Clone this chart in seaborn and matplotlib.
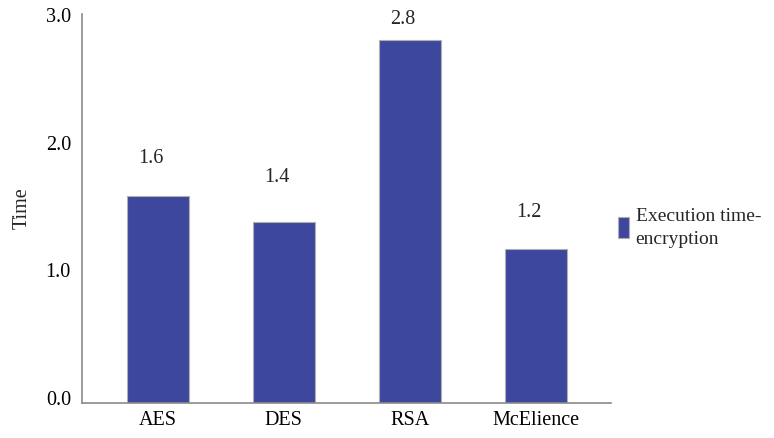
import matplotlib
matplotlib.use("Agg")
import matplotlib.pyplot as plt
import seaborn as sns
import pandas as pd
from matplotlib.patches import Patch
from matplotlib.transforms import offset_copy

categories = ["AES", "DES", "RSA", "McElience"]
values = [1.62, 1.42, 2.84, 1.21]
labels = ["1.6", "1.4", "2.8", "1.2"]
yticks = [0.0, 1.0, 2.0, 3.0]
series_name = "Execution time-\nencryption"

# label vertical offsets above bars (points) - style only
label_offsets = [27, 32, 15, 26]

sns.set_theme(style="white")
plt.rcParams["font.family"] = ["Liberation Serif", "DejaVu Serif"]

color = "#3d479e"
fs = 14.5
df = pd.DataFrame({"cat": categories, "val": values})

fig = plt.figure(figsize=(7.74, 4.38), dpi=100)
ax = fig.add_axes([0.106, 0.08, 0.684, 0.888])
sns.barplot(data=df, x="cat", y="val", color=color, width=0.49,
            edgecolor="#b0b0b0", linewidth=0.8, saturation=1, ax=ax)

ax.set_xlim(-0.6, 3.6)
ax.set_ylim(0, 3.047)
ax.set_yticks(yticks)
ax.set_yticklabels([f"{t:.1f}" for t in yticks])
ax.tick_params(axis="both", length=0, labelsize=fs, colors="black")
ax.tick_params(axis="x", pad=6)
ax.tick_params(axis="y", pad=8)
for lab in ax.get_yticklabels():
    lab.set_verticalalignment("baseline")
    lab.set_transform(offset_copy(lab.get_transform(), fig=fig, x=0, y=-2, units="dots"))
ax.set_xlabel("")
ax.set_ylabel("Time", fontsize=fs, labelpad=10)

for s in ["top", "right"]:
    ax.spines[s].set_visible(False)
for s in ["left", "bottom"]:
    ax.spines[s].set_color("#8a8a8a")
    ax.spines[s].set_linewidth(1.2)

for i, (v, l, off) in enumerate(zip(values, labels, label_offsets)):
    ax.annotate(l, (i, v), xytext=(-5, off), textcoords="offset points",
                ha="center", va="center", fontsize=fs)

handle = Patch(facecolor=color, edgecolor="#b0b0b0", linewidth=0.8)
leg = fig.legend([handle], [series_name], loc="center left",
                 bbox_to_anchor=(0.776, 0.48), frameon=False, fontsize=14,
                 handlelength=0.55, handleheight=1.3, handletextpad=0.35,
                 labelspacing=0.2)
for t in leg.get_texts():
    t.set_linespacing(1.45)

fig.savefig("out.png", dpi=100)
